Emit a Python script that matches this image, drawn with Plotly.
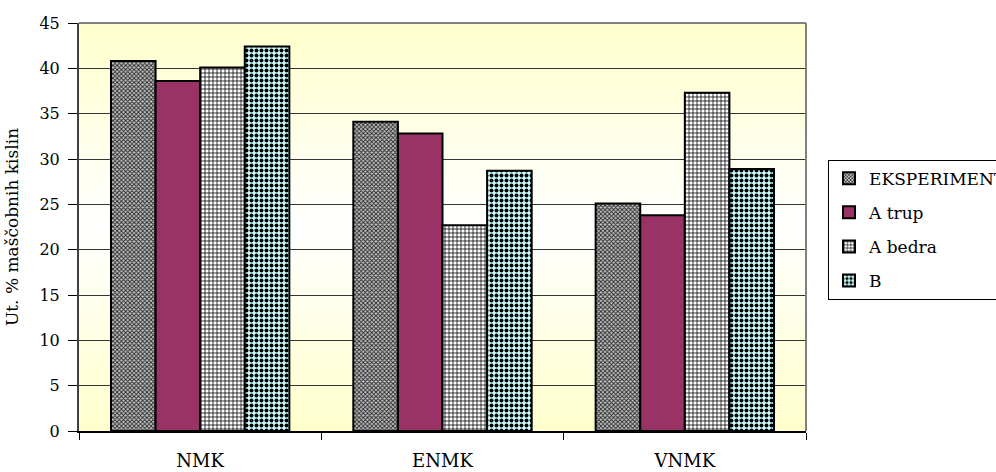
import plotly.graph_objects as go

# Fatty-acid groups on the x axis
categories = ["NMK", "ENMK", "VNMK"]

# Share of fatty acids (wt. %) per group, one list per sample
eksperiment = [40.8, 34.1, 25.1]
a_trup = [38.6, 32.8, 23.8]
a_bedra = [40.1, 22.7, 37.3]
b_vals = [42.4, 28.7, 28.9]

series_names = ["EKSPERIMENT", "A trup", "A bedra", "B"]
y_ticks = [0, 5, 10, 15, 20, 25, 30, 35, 40, 45]

FONT = "DejaVu Serif"

styles = [
    dict(color="#a0a0a0", pattern=dict(shape="x", size=3, solidity=0.5,
                                       fgcolor="#262626", bgcolor="#c4c4c4", fillmode="replace")),
    dict(color="#993366"),
    dict(color="#ffffff", pattern=dict(shape="+", size=4, solidity=0.35,
                                       fgcolor="#000000", bgcolor="#ffffff", fillmode="replace")),
    dict(color="#ccffff", pattern=dict(shape=".", size=5, solidity=0.5,
                                       fgcolor="#000000", bgcolor="#ccffff", fillmode="replace")),
]

fig = go.Figure()
for i, (name, vals) in enumerate(zip(series_names, [eksperiment, a_trup, a_bedra, b_vals])):
    fig.add_trace(go.Bar(
        x=categories, y=vals, name=name, legendgroup=name,
        marker=dict(**styles[i], line=dict(color="#000000", width=2)),
    ))

# Soft vertical gradient: pale yellow at top and bottom, white in the middle
n_strips = 48
shapes = []
for k in range(n_strips):
    t = (k + 0.5) / n_strips
    w = abs(t - 0.5) * 2  # 0 at centre, 1 at edges
    b = int(round(255 - (255 - 204) * w))
    shapes.append(dict(
        type="rect", xref="x domain", yref="y domain",
        x0=0, x1=1, y0=k / n_strips, y1=(k + 1) / n_strips + 0.002,
        fillcolor=f"rgb(255,255,{b})", line=dict(width=0), layer="below",
    ))
# grey frame on the top and right of the plot area
shapes.append(dict(type="line", xref="x domain", yref="y domain", x0=0, x1=1, y0=1, y1=1,
                   line=dict(color="#808080", width=2), layer="above"))
shapes.append(dict(type="line", xref="x domain", yref="y domain", x0=1, x1=1, y0=0, y1=1,
                   line=dict(color="#808080", width=2), layer="above"))

fig.update_layout(
    width=996, height=472,
    margin=dict(l=79, r=190, t=23, b=41, autoexpand=False),
    paper_bgcolor="#ffffff", plot_bgcolor="#ffffff",
    font=dict(family=FONT, color="#000000"),
    barmode="group", bargap=0.264, bargroupgap=0,
    shapes=shapes,
    showlegend=True,
    legend=dict(
        x=1.0303, y=0.665, xanchor="left", yanchor="top",
        bgcolor="#ffffff", bordercolor="#000000", borderwidth=1,
        font=dict(family=FONT, size=17, color="#000000"),
        tracegroupgap=9, traceorder="grouped",
    ),
)

fig.update_xaxes(
    type="category", tickson="boundaries", ticks="outside", ticklen=7,
    tickcolor="#000000", tickwidth=1,
    showline=True, linecolor="#000000", linewidth=2,
    showgrid=False, tickfont=dict(family=FONT, size=18),
    ticklabelstandoff=12,
)
fig.update_yaxes(
    range=[0, 45], tickvals=y_ticks, ticks="outside", ticklen=9,
    tickcolor="#000000", tickwidth=1,
    showline=True, linecolor="#404040", linewidth=2,
    showgrid=True, gridcolor="#333333", gridwidth=1,
    zeroline=False, tickfont=dict(family=FONT, size=16),
    ticklabelstandoff=5,
    title=dict(text="Ut. % maščobnih kislin", font=dict(family=FONT, size=17), standoff=16),
)

fig.write_html("out.html")
